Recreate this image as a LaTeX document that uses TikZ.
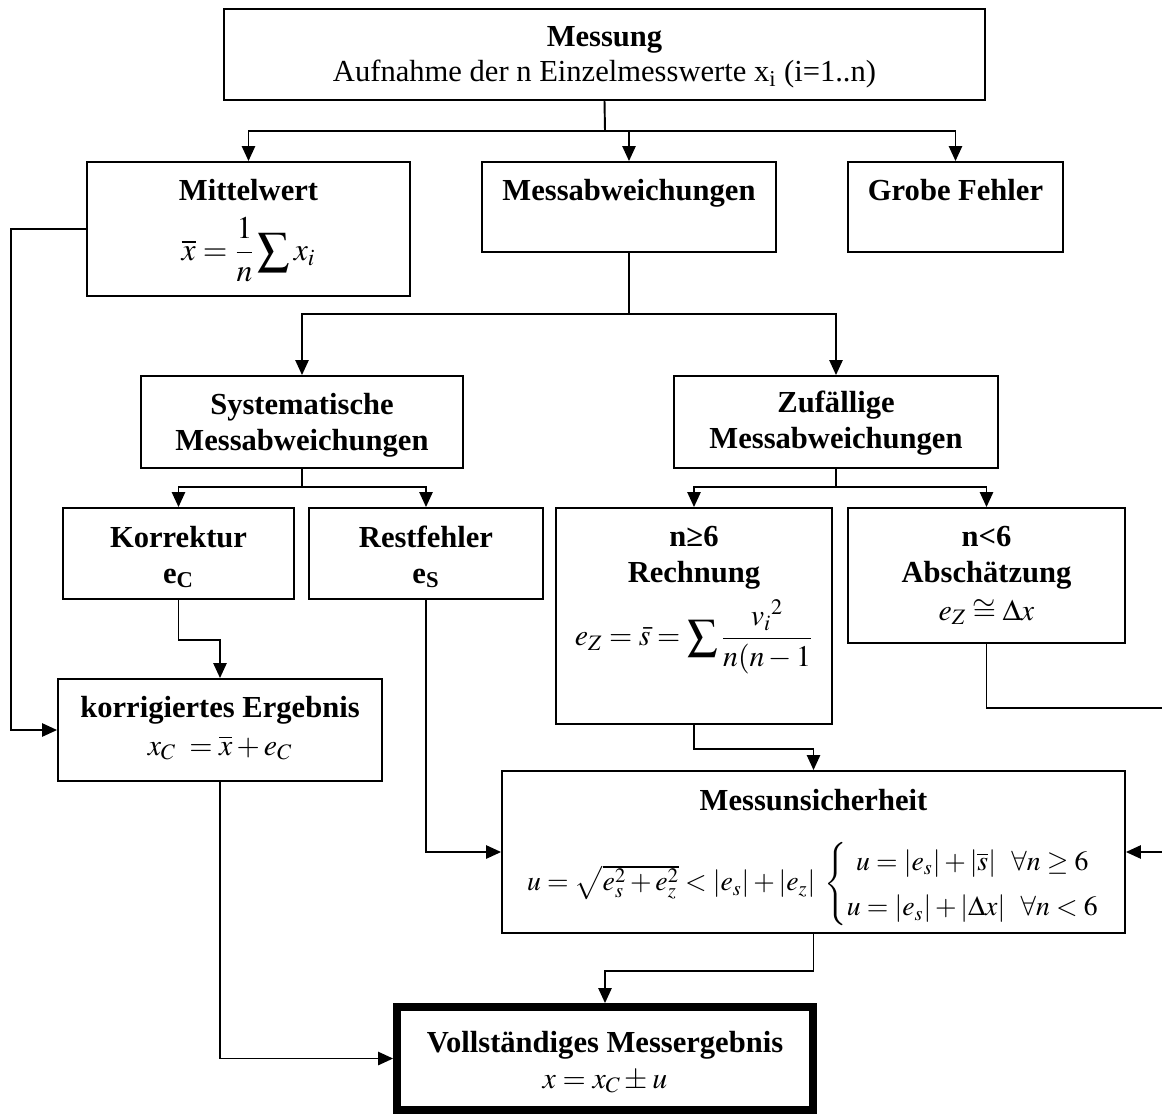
\documentclass[tikz,border=0pt]{standalone}
\usepackage{amsmath}
\usepackage{mathptmx}
\usepackage[no-math]{fontspec}
\setmainfont{Liberation Serif}
\usetikzlibrary{arrows.meta}

\begin{document}
\begin{tikzpicture}[x=0.02cm, y=-0.02cm,
  font=\fontsize{17.4}{20}\selectfont,
  box/.style={draw, line width=1.1pt, inner sep=0pt},
  ttl/.style={anchor=base, align=center, inner sep=0pt,
    font=\fontsize{17.4}{20}\selectfont\bfseries},
  frm/.style={inner sep=0pt, font=\fontsize{17}{20}\selectfont},
  con/.style={line width=1.1pt},
  arr/.style={line width=1.1pt, -{Triangle[length=8.5pt,width=7.5pt]}}]
  \useasboundingbox (0,0) rectangle (1162,1115);
  \clip (0,0) rectangle (1162,1115);

  % boxes
  \node[box, minimum width=15.22cm, minimum height=1.82cm] (mess)    at (604.5,54.5) {};
  \node[box, minimum width=6.46cm,  minimum height=2.68cm] (mittel)  at (248.5,229) {};
  \node[box, minimum width=5.88cm,  minimum height=1.80cm] (abw)     at (629,207) {};
  \node[box, minimum width=4.30cm,  minimum height=1.80cm] (grob)    at (955.5,207) {};
  \node[box, minimum width=6.44cm,  minimum height=1.84cm] (sys)     at (302,422) {};
  \node[box, minimum width=6.48cm,  minimum height=1.84cm] (zuf)     at (836,422) {};
  \node[box, minimum width=4.62cm,  minimum height=1.82cm] (korr)    at (178.5,553.5) {};
  \node[box, minimum width=4.68cm,  minimum height=1.82cm] (rest)    at (426,553.5) {};
  \node[box, minimum width=5.52cm,  minimum height=4.32cm] (rech)    at (694,616) {};
  \node[box, minimum width=5.54cm,  minimum height=2.70cm] (absch)   at (986.5,575.5) {};
  \node[box, minimum width=6.48cm,  minimum height=2.04cm] (korrerg) at (220,730) {};
  \node[box, minimum width=12.46cm, minimum height=3.24cm] (unsich)  at (813.5,852) {};
  \node[box, line width=4.5pt, minimum width=8.32cm, minimum height=2.06cm] (voll) at (605,1058.5) {};

  % titles (base = last line)
  \node[ttl] (mess-t) at (604.5,82) {Messung\\ {\mdseries Aufnahme der n Einzelmesswerte x\textsubscript{i} (i=1..n)}};
  \node[ttl] (mittel-t)  at (248.5,200) {Mittelwert};
  \node[ttl] (abw-t)     at (629,200) {Messabweichungen};
  \node[ttl] (grob-t)    at (955.5,200) {Grobe Fehler};
  \node[ttl] (sys-t)     at (302,450) {Systematische\\ Messabweichungen};
  \node[ttl] (zuf-t)     at (836,448) {Zufällige\\ Messabweichungen};
  \node[ttl] (korr-t)    at (178.5,583) {Korrektur\\ e\textsubscript{C}};
  \node[ttl] (rest-t)    at (426,583) {Restfehler\\ e\textsubscript{S}};
  \node[ttl] (rech-t)    at (694,582) {n≥6\\ Rechnung};
  \node[ttl] (absch-t)   at (986.5,582) {n<6\\ Abschätzung};
  \node[ttl] (korrerg-t) at (220,717) {korrigiertes Ergebnis};
  \node[ttl] (unsich-t)  at (813.5,810) {Messunsicherheit};
  \node[ttl] (voll-t)    at (605,1052) {Vollständiges Messergebnis};

  % formulas
  \node[frm, font=\fontsize{18}{20}\selectfont] (mittel-f) at (248.5,250) {$\displaystyle\overline{x}=\frac{1}{n}\sum x_{i}$};
  \node[frm] (rech-f) at (694,637) {$\displaystyle e_{Z}=\bar{s}=\sum\frac{{v_{i}}^{2}}{n(n-1}$};
  \node[frm, anchor=base] (absch-f) at (986.5,620) {$e_{Z}\cong\Delta x$};
  \node[frm, anchor=base] (korrerg-f) at (220,755) {$x_{C}\;=\overline{x}+e_{C}$};
  \node[frm, font=\fontsize{15.8}{20}\selectfont] (unsich-f) at (813.5,884) {\renewcommand{\arraystretch}{1.3}%
    $u=\sqrt{e_{s}^{2}+e_{z}^{2}}<\left|e_{s}\right|+\left|e_{z}\right|\;
    \left\{\begin{array}{@{}c@{}}
      u=\left|e_{s}\right|+\left|\overline{s}\right|\;\;\forall n\geq 6\\
      u=\left|e_{s}\right|+\left|\Delta x\right|\;\;\forall n<6
    \end{array}\right.$};
  \node[frm, anchor=base] (voll-f) at (605,1088) {$x=x_{C}\pm u$};

  % connectors
  \coordinate (j1) at (605,131);
  \draw[con] (mess.south) -- (j1);
  \draw[arr] (j1) -| (mittel.north);
  \draw[arr] (j1) -| (abw.north);
  \draw[arr] (j1) -| (grob.north);

  \coordinate (j2) at (629,314);
  \draw[con] (abw.south) -- (j2);
  \draw[arr] (j2) -| (sys.north);
  \draw[arr] (j2) -| (zuf.north);

  \coordinate (j3) at (302,487);
  \draw[con] (sys.south) -- (j3);
  \draw[arr] (j3) -| (korr.north);
  \draw[arr] (j3) -| (rest.north);

  \coordinate (j4) at (836,487);
  \draw[con] (zuf.south) -- (j4);
  \draw[arr] (j4) -| (rech.north);
  \draw[arr] (j4) -| (absch.north);

  \draw[arr] (mittel.west) -- ++(-75,0) |- (korrerg.west);
  \draw[arr] (korr.south) -- ++(0,40) -| (korrerg.north);
  \draw[arr] (rest.south) |- (unsich.west);
  \draw[arr] (rech.south) -- ++(0,24) -| (unsich.north);
  \draw[arr] (absch.south) -- ++(0,64) -- ++(190,0) |- (unsich.east);
  \draw[arr] (unsich.south) -- ++(0,37) -| (voll.north);
  \draw[arr] (korrerg.south) |- (voll.west);
\end{tikzpicture}
\end{document}
